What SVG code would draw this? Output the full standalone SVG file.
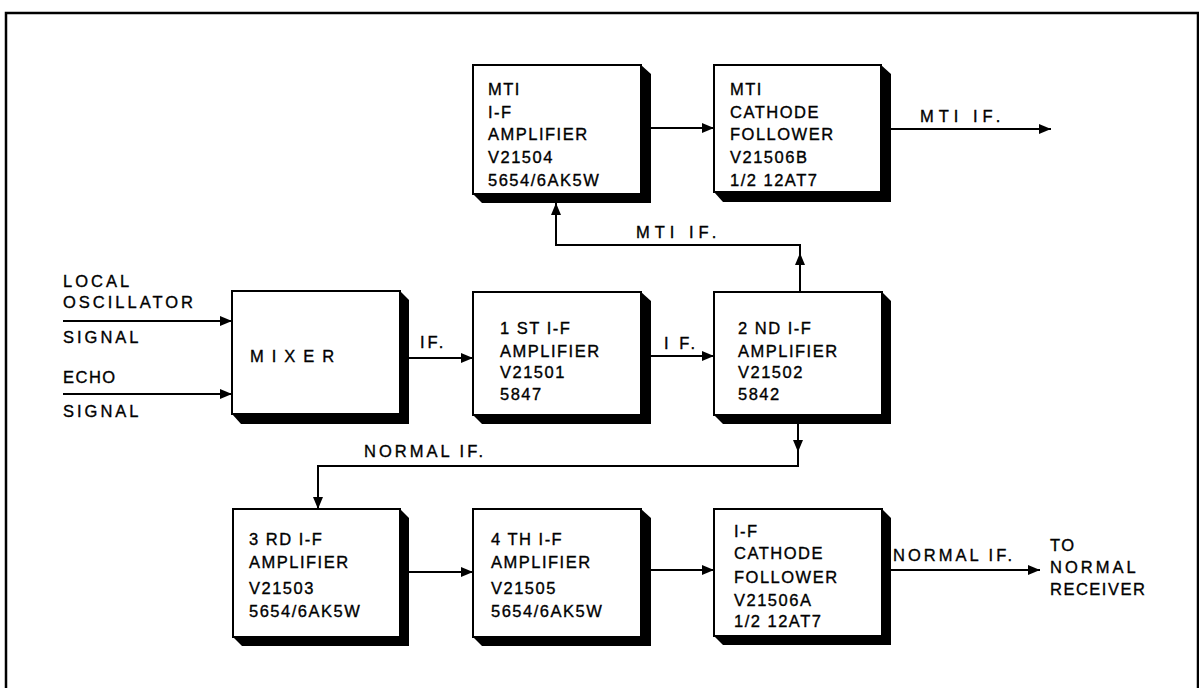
<svg xmlns="http://www.w3.org/2000/svg" width="1199" height="688" viewBox="0 0 1199 688">
<style>
text{font-family:"Liberation Sans",Arial,sans-serif;font-size:16.5px;letter-spacing:1.5px;fill:#000;stroke:#000;stroke-width:0.35}
.w{letter-spacing:3px}
.box{fill:#fff;stroke:#000;stroke-width:2}
.sh{fill:#000}
.c{fill:none;stroke:#000;stroke-width:2}
</style>
<defs>
<marker id="ah" viewBox="0 0 12 10" refX="12" refY="5" markerWidth="12" markerHeight="10" markerUnits="userSpaceOnUse" orient="auto">
<path d="M0,0 L12,5 L0,10 z" fill="#000"/>
</marker>
</defs>
<rect x="0" y="0" width="1199" height="688" fill="#fff"/>
<path d="M6,700 V13 H1198 V700" fill="none" stroke="#000" stroke-width="2.5"/>

<g id="mti_amp">
<polygon class="sh" points="641,65 651,74 651,203 482,203 473,194"/>
<rect class="box" x="473" y="65" width="168" height="129"/>
<text x="488" y="95">MTI</text><text x="488" y="118">I-F</text><text x="488" y="140">AMPLIFIER</text><text x="488" y="163">V21504</text><text x="488" y="186">5654/6AK5W</text>
</g>
<g id="mti_cf">
<polygon class="sh" points="881,65 891,74 891,202 723,202 714,192"/>
<rect class="box" x="714" y="65" width="167" height="127"/>
<text x="730" y="95">MTI</text><text x="730" y="118">CATHODE</text><text x="730" y="140">FOLLOWER</text><text x="730" y="163">V21506B</text><text x="730" y="186">1/2 12AT7</text>
</g>
<g id="mixer">
<polygon class="sh" points="400,291 409,300 409,424 241,424 232,414"/>
<rect class="box" x="232" y="291" width="168" height="123"/>
<text x="250" y="362" style="letter-spacing:8px">MIXER</text>
</g>
<g id="if1">
<polygon class="sh" points="641,292 651,301 651,424 482,424 473,415"/>
<rect class="box" x="473" y="292" width="168" height="123"/>
<text x="500" y="334">1 ST I-F</text><text x="500" y="357">AMPLIFIER</text><text x="500" y="378">V21501</text><text x="500" y="400">5847</text>
</g>
<g id="if2">
<polygon class="sh" points="882,292 891,301 891,424 723,424 714,415"/>
<rect class="box" x="714" y="292" width="168" height="123"/>
<text x="738" y="334">2 ND I-F</text><text x="738" y="357">AMPLIFIER</text><text x="738" y="378">V21502</text><text x="738" y="400">5842</text>
</g>
<g id="if3">
<polygon class="sh" points="400,509 409,518 409,646 242,646 233,637"/>
<rect class="box" x="233" y="509" width="167" height="128"/>
<text x="249" y="545">3 RD I-F</text><text x="249" y="568">AMPLIFIER</text><text x="249" y="594">V21503</text><text x="249" y="617">5654/6AK5W</text>
</g>
<g id="if4">
<polygon class="sh" points="641,509 651,518 651,646 482,646 473,637"/>
<rect class="box" x="473" y="509" width="168" height="128"/>
<text x="491" y="545">4 TH I-F</text><text x="491" y="568">AMPLIFIER</text><text x="491" y="594">V21505</text><text x="491" y="617">5654/6AK5W</text>
</g>
<g id="if_cf">
<polygon class="sh" points="882,509 891,518 891,645 723,645 714,636"/>
<rect class="box" x="714" y="509" width="168" height="127"/>
<text x="734" y="537">I-F</text><text x="734" y="559">CATHODE</text><text x="734" y="583">FOLLOWER</text><text x="734" y="606">V21506A</text><text x="734" y="627">1/2 12AT7</text>
</g>

<g id="connectors">
<line class="c" x1="63" y1="321" x2="232" y2="321" marker-end="url(#ah)"/>
<line class="c" x1="63" y1="394" x2="232" y2="394" marker-end="url(#ah)"/>
<line class="c" x1="409" y1="358" x2="473" y2="358" marker-end="url(#ah)"/>
<line class="c" x1="651" y1="356" x2="714" y2="356" marker-end="url(#ah)"/>
<line class="c" x1="651" y1="128" x2="714" y2="128" marker-end="url(#ah)"/>
<line class="c" x1="891" y1="129" x2="1051" y2="129" marker-end="url(#ah)"/>
<line class="c" x1="800" y1="292" x2="800" y2="253" marker-end="url(#ah)"/>
<polyline class="c" points="800,255 800,245 556,245 556,203" marker-end="url(#ah)"/>
<line class="c" x1="798" y1="424" x2="798" y2="452" marker-end="url(#ah)"/>
<polyline class="c" points="798,450 798,466 318,466 318,509" marker-end="url(#ah)"/>
<line class="c" x1="409" y1="572" x2="473" y2="572" marker-end="url(#ah)"/>
<line class="c" x1="651" y1="570" x2="714" y2="570" marker-end="url(#ah)"/>
<line class="c" x1="891" y1="570" x2="1040" y2="570" marker-end="url(#ah)"/>
</g>

<g id="labels">
<text x="63" y="287" class="w">LOCAL</text>
<text x="63" y="308" class="w">OSCILLATOR</text>
<text x="63" y="343" class="w">SIGNAL</text>
<text x="63" y="383">ECHO</text>
<text x="63" y="417" class="w">SIGNAL</text>
<text x="420" y="348" class="w">IF.</text>
<text x="664" y="349" class="w">I F.</text>
<text x="636" y="238" style="letter-spacing:5px">MTI  IF.</text>
<text x="920" y="122" style="letter-spacing:5px">MTI  IF.</text>
<text x="364" y="457" class="w">NORMAL IF.</text>
<text x="893" y="561" class="w">NORMAL IF.</text>
<text x="1050" y="551">TO</text>
<text x="1050" y="573" class="w">NORMAL</text>
<text x="1050" y="595">RECEIVER</text>
</g>
</svg>
